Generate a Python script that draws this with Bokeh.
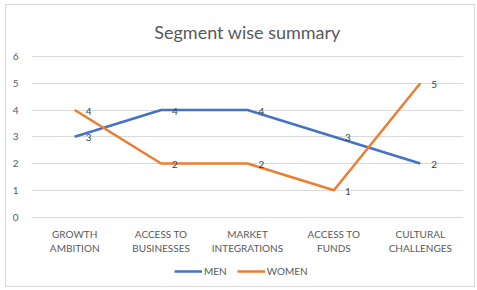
from bokeh.plotting import figure
from bokeh.models import ColumnDataSource, FactorRange, Range1d, Legend, LegendItem, FixedTicker
from bokeh.core.properties import value
from bokeh.embed import file_html
from bokeh.resources import INLINE

categories = ["GROWTH\nAMBITION", "ACCESS TO\nBUSINESSES", "MARKET\nINTEGRATIONS",
              "ACCESS TO\nFUNDS", "CULTURAL\nCHALLENGES"]
men = [3, 4, 4, 3, 2]
women = [4, 2, 2, 1, 5]
y_ticks = [0, 1, 2, 3, 4, 5, 6]

FONT = "Lato"
GRAY = "#595959"
BLUE = "#4472C4"
ORANGE = "#ED7D31"

p = figure(x_range=FactorRange(factors=categories, range_padding=0),
           y_range=Range1d(-2.407, 6.037),
           width=470, height=283, output_backend="svg", toolbar_location=None,
           min_border_left=25, min_border_right=13, min_border_top=48, min_border_bottom=7,
           title="Segment wise summary")
p.margin = (4, 2, 3, 5)

p.title.align = "center"
p.title.offset = -5
p.title.text_font = FONT
p.title.text_font_size = "18px"
p.title.text_font_style = "normal"
p.title.text_color = GRAY
p.title.text_line_height = 0.6
p.title.standoff = 26

p.outline_line_color = None
p.background_fill_color = "white"
p.border_fill_color = "white"
p.styles = {"border": "1px solid #d9d9d9"}

p.xgrid.grid_line_color = None
p.ygrid.grid_line_color = "#d9d9d9"
p.ygrid.grid_line_width = 1

p.yaxis.ticker = FixedTicker(ticks=y_ticks)
p.yaxis.axis_line_color = None
p.yaxis.major_tick_line_color = None
p.yaxis.minor_tick_line_color = None
p.yaxis.major_tick_out = 0
p.yaxis.major_label_standoff = 13
p.yaxis.major_label_text_font = FONT
p.yaxis.major_label_text_font_size = "10px"
p.yaxis.major_label_text_color = GRAY

p.xaxis.fixed_location = 0
p.xaxis.axis_line_color = None
p.xaxis.major_tick_line_color = None
p.xaxis.major_tick_out = 0
p.xaxis.major_label_standoff = 11
p.xaxis.major_label_text_font = FONT
p.xaxis.major_label_text_font_size = "10px"
p.xaxis.major_label_text_color = GRAY

src = ColumnDataSource(dict(x=categories, men=men, women=women,
                            men_lbl=[str(v) for v in men],
                            women_lbl=[str(v) for v in women]))

r_men = p.line("x", "men", source=src, line_color=BLUE, line_width=2.5)
r_women = p.line("x", "women", source=src, line_color=ORANGE, line_width=2.5)

p.text("x", "men", text="men_lbl", source=src, x_offset=11, y_offset=1,
       text_baseline="middle", text_align="left", text_font=value(FONT),
       text_font_size="10px", text_color="#404040")
p.text("x", "women", text="women_lbl", source=src, x_offset=11, y_offset=1,
       text_baseline="middle", text_align="left", text_font=value(FONT),
       text_font_size="10px", text_color="#404040")

legend = Legend(items=[LegendItem(label="MEN", renderers=[r_men]),
                       LegendItem(label="WOMEN", renderers=[r_women])],
                orientation="horizontal", location=(143, 0),
                label_text_font=FONT, label_text_font_size="10px", label_text_color=GRAY,
                glyph_width=28, spacing=10, label_standoff=2, padding=2, margin=0,
                border_line_color=None, background_fill_alpha=0)
p.add_layout(legend, "center")

open("out.html", "w").write(file_html(p, INLINE))
